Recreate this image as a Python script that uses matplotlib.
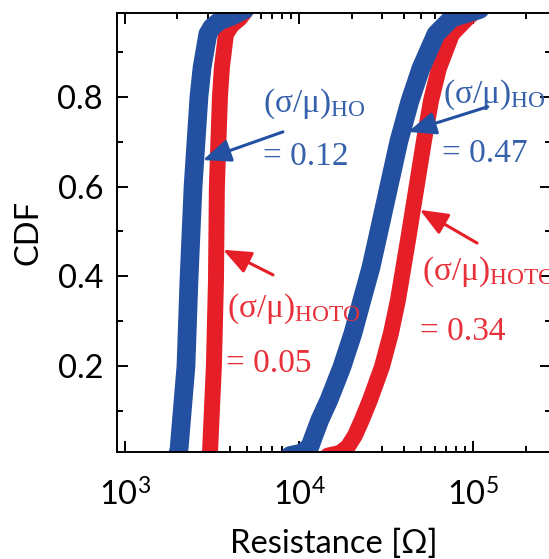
import numpy as np
import matplotlib
matplotlib.use("Agg")
import matplotlib.pyplot as plt
from matplotlib.ticker import FixedLocator, FixedFormatter, LogLocator, NullFormatter

plt.rcParams['font.family'] = ['Lato', 'DejaVu Sans']
plt.rcParams['mathtext.fontset'] = 'custom'
plt.rcParams['mathtext.rm'] = 'Liberation Serif'
plt.rcParams['mathtext.it'] = 'Liberation Serif:italic'

BLUE = "#2350a0"
RED = "#e61e28"
BLUE_TXT = "#3560aa"
RED_TXT = "#e8303a"

# low-resistance pair (Ohm vs cumulative probability)
ho_low_r = [1990, 2040, 2240, 2330, 2460, 2660, 2770, 2990, 3150, 3510, 4110, 4890]
ho_low_cdf = [0.0, 0.01, 0.2, 0.39, 0.6, 0.8, 0.865, 0.94, 0.955, 0.97, 0.98, 0.995]
hoto_low_r = [3030, 3080, 3240, 3330, 3370, 3510, 3600, 3800, 4110, 4570, 4890]
hoto_low_cdf = [0.0, 0.01, 0.2, 0.39, 0.6, 0.8, 0.865, 0.94, 0.96, 0.975, 0.99]

# high-resistance pair
ho_high_r = [8850, 10380, 11530, 12170, 13160, 14830, 17610, 20370, 22940, 25840,
             27970, 32350, 37410, 43270, 50040, 61010, 75390, 109100]
ho_high_cdf = [0.0, 0.006, 0.02, 0.045, 0.08, 0.124, 0.198, 0.273, 0.347, 0.42,
               0.48, 0.591, 0.702, 0.791, 0.864, 0.94, 0.976, 0.995]
hoto_high_r = [14620, 17150, 19060, 20910, 22940, 25500, 29880, 33650, 36920, 42130,
               46830, 52060, 57100, 63470, 75410, 89550, 98200]
hoto_high_cdf = [0.0, 0.006, 0.02, 0.045, 0.08, 0.124, 0.198, 0.273, 0.347, 0.48,
                 0.591, 0.702, 0.791, 0.864, 0.94, 0.97, 0.985]

fig = plt.figure(figsize=(5.49, 5.59), dpi=100)
ax = fig.add_axes([0.2131, 0.1914, 0.7905, 0.7853])

line_kw = dict(solid_joinstyle="round", solid_capstyle="round")
ax.plot(hoto_low_r, hoto_low_cdf, color=RED, lw=11.5, **line_kw)
ax.plot(hoto_high_r, hoto_high_cdf, color=RED, lw=11.5, **line_kw)
ax.plot(ho_low_r, ho_low_cdf, color=BLUE, lw=13.5, **line_kw)
ax.plot(ho_high_r, ho_high_cdf, color=BLUE, lw=13.5, **line_kw)

ax.set_xscale("log")
ax.set_xlim(900, 2.79e5)
ax.set_ylim(0.008, 0.987)

ax.xaxis.set_major_locator(FixedLocator([1e3, 1e4, 1e5]))
ax.xaxis.set_major_formatter(FixedFormatter([r"$\mathregular{10^{3}}$",
                                             r"$\mathregular{10^{4}}$",
                                             r"$\mathregular{10^{5}}$"]))
ax.xaxis.set_minor_locator(LogLocator(base=10, subs=np.arange(2, 10), numticks=20))
ax.xaxis.set_minor_formatter(NullFormatter())
ax.set_yticks([0.2, 0.4, 0.6, 0.8])
ax.set_yticks([0.1, 0.3, 0.5, 0.7, 0.9], minor=True)

ax.tick_params(which="both", direction="in", top=True, right=True, width=1.4,
               labelsize=23.5)
ax.tick_params(which="major", length=8)
ax.tick_params(which="minor", length=4.5)
ax.tick_params(axis="y", pad=10)
ax.tick_params(axis="x", pad=19)
for sp in ax.spines.values():
    sp.set_linewidth(1.4)

ax.set_xlabel("Resistance [Ω]", fontsize=23.5, labelpad=12.5)
ax.set_ylabel("CDF", fontsize=23.5, labelpad=10)

# annotations
serif = dict(family="Liberation Serif", fontsize=24)
arrow = lambda c: dict(arrowstyle="-|>,head_length=0.85,head_width=0.35", lw=2.2,
                       color=c, shrinkA=0, shrinkB=0, mutation_scale=20)

ax.text(6190, 0.767, r"$\mathrm{(σ/μ)_{HO}}$", color=BLUE_TXT, va="baseline", **serif)
ax.text(6190, 0.648, "= 0.12", color=BLUE_TXT, va="baseline", **serif)
ax.annotate("", xy=(2800, 0.659), xytext=(8070, 0.722), arrowprops=arrow(BLUE))

ax.text(67000, 0.787, r"$\mathrm{(σ/μ)_{HO}}$", color=BLUE_TXT, va="baseline", **serif)
ax.text(66100, 0.655, "= 0.47", color=BLUE_TXT, va="baseline", **serif)
ax.annotate("", xy=(42200, 0.722), xytext=(121000, 0.778), arrowprops=arrow(BLUE))

ax.text(3860, 0.309, r"$\mathrm{(σ/μ)_{HOTO}}$", color=RED_TXT, va="baseline", **serif)
ax.text(3800, 0.187, "= 0.05", color=RED_TXT, va="baseline", **serif)
ax.annotate("", xy=(3660, 0.459), xytext=(7080, 0.403), arrowprops=arrow(RED))

ax.text(50700, 0.392, r"$\mathrm{(σ/μ)_{HOTO}}$", color=RED_TXT, va="baseline", **serif)
ax.text(49500, 0.258, "= 0.34", color=RED_TXT, va="baseline", **serif)
ax.annotate("", xy=(49300, 0.548), xytext=(105000, 0.474), arrowprops=arrow(RED))

fig.savefig("out.png", dpi=100)
